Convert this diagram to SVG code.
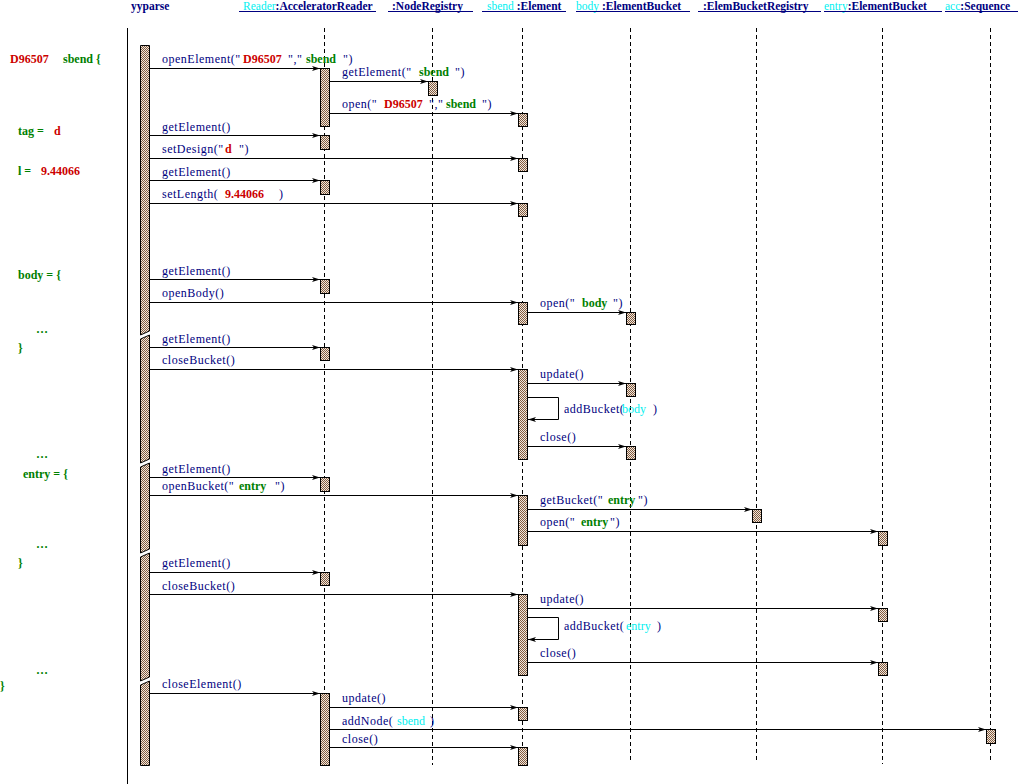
<svg xmlns="http://www.w3.org/2000/svg" width="1023" height="784" viewBox="0 0 1023 784">
<style>
text{font-family:"Liberation Serif","Times New Roman",serif;font-size:12px}
.h{font-weight:bold;fill:#000080;font-size:11.5px}
.hc{font-weight:normal;fill:#00f0f0}
.m{fill:#000080;letter-spacing:0.5px}
.g{fill:#008000;font-weight:bold;letter-spacing:0}
.r{fill:#cc0000;font-weight:bold;letter-spacing:0}
.c{fill:#00f0f0;letter-spacing:0}
.ul{stroke:#000080;stroke-width:1}
.life{stroke:#000;stroke-width:1;stroke-dasharray:4 3;fill:none}
.act{fill:url(#chk);stroke:#000;stroke-width:1}
.msg{stroke:#000;stroke-width:1;fill:none;marker-end:url(#ah)}
</style>
<defs>
<pattern id="chk" width="2" height="2" patternUnits="userSpaceOnUse">
<rect width="2" height="2" fill="#ece6e0"/>
<rect width="1" height="1" fill="#865c3c"/>
<rect x="1" y="1" width="1" height="1" fill="#865c3c"/>
</pattern>
<marker id="ah" markerWidth="10" markerHeight="8" refX="9" refY="4" orient="auto" markerUnits="userSpaceOnUse">
<path d="M1,1.5 L9,4 L1,6.5 L3,4 Z" fill="#000"/>
</marker>
</defs>
<rect width="1023" height="784" fill="#fff"/>

<!-- source column -->
<g id="source">
<text x="10" y="63" class="r">D96507</text><text x="63" y="63" class="g">sbend {</text>
<text x="18" y="135" class="g">tag =</text><text x="54" y="135" class="r">d</text>
<text x="18" y="175" class="g">l =</text><text x="41" y="175" class="r">9.44066</text>
<text x="18" y="279" class="g">body = {</text>
<text x="36" y="333" class="g">…</text>
<text x="18" y="352" class="g">}</text>
<text x="36" y="458" class="g">…</text>
<text x="23" y="478" class="g">entry = {</text>
<text x="36" y="548" class="g">…</text>
<text x="18" y="567" class="g">}</text>
<text x="36" y="674" class="g">…</text>
<text x="0" y="690" class="g">}</text>
</g>

<line x1="127.5" y1="28" x2="127.5" y2="784" stroke="#000" stroke-width="1"/>

<!-- lifelines -->
<g id="yyparse">
<text x="131" y="10" class="h">yyparse</text>
<polygon class="act" points="140.5,45.5 149.5,45.5 149.5,331 140.5,335"/>
<polygon class="act" points="140.5,339 149.5,335 149.5,459 140.5,463"/>
<polygon class="act" points="140.5,467 149.5,463 149.5,549 140.5,553"/>
<polygon class="act" points="140.5,557 149.5,553 149.5,677 140.5,681"/>
<polygon class="act" points="140.5,685 149.5,681 149.5,765.5 140.5,765.5"/>
</g>

<g id="reader">
<text x="243" y="10" class="h"><tspan class="hc">Reader</tspan>:AcceleratorReader</text>
<line class="ul" x1="239" y1="11.5" x2="376" y2="11.5"/>
<line class="life" x1="324.5" y1="28" x2="324.5" y2="765"/>
<rect class="act" x="320.5" y="68.5" width="9" height="58"/>
<rect class="act" x="320.5" y="135.5" width="9" height="14"/>
<rect class="act" x="320.5" y="180.5" width="9" height="14"/>
<rect class="act" x="320.5" y="279.5" width="9" height="14"/>
<rect class="act" x="320.5" y="347.5" width="9" height="13"/>
<rect class="act" x="320.5" y="477.5" width="9" height="14"/>
<rect class="act" x="320.5" y="572.5" width="9" height="13"/>
<rect class="act" x="320.5" y="693.5" width="9" height="72"/>
</g>

<g id="noderegistry">
<text x="392" y="10" class="h">:NodeRegistry</text>
<line class="ul" x1="388" y1="11.5" x2="473" y2="11.5"/>
<line class="life" x1="432.5" y1="28" x2="432.5" y2="765"/>
<rect class="act" x="428.5" y="81.5" width="9" height="14"/>
</g>

<g id="element">
<text x="487" y="10" class="h"><tspan class="hc">sbend</tspan> :Element</text>
<line class="ul" x1="482" y1="11.5" x2="566" y2="11.5"/>
<line class="life" x1="522.5" y1="28" x2="522.5" y2="765"/>
<rect class="act" x="518.5" y="113.5" width="9" height="13"/>
<rect class="act" x="518.5" y="158.5" width="9" height="13"/>
<rect class="act" x="518.5" y="203.5" width="9" height="13"/>
<rect class="act" x="518.5" y="302.5" width="9" height="22"/>
<rect class="act" x="518.5" y="369.5" width="9" height="90"/>
<rect class="act" x="518.5" y="495.5" width="9" height="50"/>
<rect class="act" x="518.5" y="594.5" width="9" height="81"/>
<rect class="act" x="518.5" y="707.5" width="9" height="13"/>
<rect class="act" x="518.5" y="747.5" width="9" height="18"/>
</g>

<g id="body">
<text x="576" y="10" class="h"><tspan class="hc">body</tspan> :ElementBucket</text>
<line class="ul" x1="576" y1="11.5" x2="690" y2="11.5"/>
<line class="life" x1="630.5" y1="28" x2="630.5" y2="762"/>
<rect class="act" x="626.5" y="312.5" width="9" height="12"/>
<rect class="act" x="626.5" y="383.5" width="9" height="13"/>
<rect class="act" x="626.5" y="446.5" width="9" height="13"/>
</g>

<g id="elembucketregistry">
<text x="703" y="10" class="h">:ElemBucketRegistry</text>
<line class="ul" x1="698" y1="11.5" x2="821" y2="11.5"/>
<line class="life" x1="756.5" y1="28" x2="756.5" y2="762"/>
<rect class="act" x="752.5" y="509.5" width="9" height="13"/>
</g>

<g id="entry">
<text x="824" y="10" class="h"><tspan class="hc">entry</tspan>:ElementBucket</text>
<line class="ul" x1="824" y1="11.5" x2="942" y2="11.5"/>
<line class="life" x1="882.5" y1="28" x2="882.5" y2="764"/>
<rect class="act" x="878.5" y="531.5" width="9" height="14"/>
<rect class="act" x="878.5" y="608.5" width="9" height="13"/>
<rect class="act" x="878.5" y="662.5" width="9" height="13"/>
</g>

<g id="acc">
<text x="945" y="10" class="h"><tspan class="hc">acc</tspan>:Sequence</text>
<line class="ul" x1="945" y1="11.5" x2="1018" y2="11.5"/>
<line class="life" x1="990.5" y1="28" x2="990.5" y2="763"/>
<rect class="act" x="986.5" y="729.5" width="9" height="14"/>
</g>

<!-- connectors -->
<g id="messages">
<path class="msg" d="M149.5,68.5 H320"/>
<path class="msg" d="M329.5,81.5 H428"/>
<path class="msg" d="M329.5,113.5 H518"/>
<path class="msg" d="M149.5,135.5 H320"/>
<path class="msg" d="M149.5,158.5 H518"/>
<path class="msg" d="M149.5,180.5 H320"/>
<path class="msg" d="M149.5,203.5 H518"/>
<path class="msg" d="M149.5,279.5 H320"/>
<path class="msg" d="M149.5,302.5 H518"/>
<path class="msg" d="M527.5,312.5 H626"/>
<path class="msg" d="M149.5,347.5 H320"/>
<path class="msg" d="M149.5,369.5 H518"/>
<path class="msg" d="M527.5,383.5 H626"/>
<path class="msg" d="M527.5,397.5 H558.5 V419.5 H528"/>
<path class="msg" d="M527.5,446.5 H626"/>
<path class="msg" d="M149.5,477.5 H320"/>
<path class="msg" d="M149.5,495.5 H518"/>
<path class="msg" d="M527.5,509.5 H752"/>
<path class="msg" d="M527.5,531.5 H878"/>
<path class="msg" d="M149.5,572.5 H320"/>
<path class="msg" d="M149.5,594.5 H518"/>
<path class="msg" d="M527.5,608.5 H878"/>
<path class="msg" d="M527.5,617.5 H558.5 V639.5 H528"/>
<path class="msg" d="M527.5,662.5 H878"/>
<path class="msg" d="M149.5,693.5 H320"/>
<path class="msg" d="M329.5,707.5 H518"/>
<path class="msg" d="M329.5,729.5 H986"/>
<path class="msg" d="M329.5,747.5 H518"/>

<text class="m" y="63"><tspan x="162">openElement("</tspan><tspan x="243" class="r">D96507</tspan><tspan x="288">","</tspan><tspan x="306" class="g">sbend</tspan><tspan x="343">")</tspan></text>
<text class="m" y="76"><tspan x="342">getElement("</tspan><tspan x="419" class="g">sbend</tspan><tspan x="455">")</tspan></text>
<text class="m" y="108"><tspan x="342">open("</tspan><tspan x="384" class="r">D96507</tspan><tspan x="429">","</tspan><tspan x="446" class="g">sbend</tspan><tspan x="482">")</tspan></text>
<text class="m" x="162" y="131">getElement()</text>
<text class="m" y="153"><tspan x="162">setDesign("</tspan><tspan x="225" class="r">d</tspan><tspan x="239">")</tspan></text>
<text class="m" x="162" y="176">getElement()</text>
<text class="m" y="198"><tspan x="162">setLength(</tspan><tspan x="225" class="r">9.44066</tspan><tspan x="279">)</tspan></text>
<text class="m" x="162" y="275">getElement()</text>
<text class="m" x="162" y="297">openBody()</text>
<text class="m" y="307"><tspan x="540">open("</tspan><tspan x="582" class="g">body</tspan><tspan x="613">")</tspan></text>
<text class="m" x="162" y="343">getElement()</text>
<text class="m" x="162" y="364">closeBucket()</text>
<text class="m" x="540" y="378">update()</text>
<text class="m" y="413"><tspan x="564">addBucket(</tspan><tspan x="622" class="c">body</tspan><tspan x="653">)</tspan></text>
<text class="m" x="540" y="441">close()</text>
<text class="m" x="162" y="473">getElement()</text>
<text class="m" y="490"><tspan x="162">openBucket("</tspan><tspan x="239" class="g">entry</tspan><tspan x="275">")</tspan></text>
<text class="m" y="504"><tspan x="540">getBucket("</tspan><tspan x="608" class="g">entry</tspan><tspan x="638">")</tspan></text>
<text class="m" y="526"><tspan x="540">open("</tspan><tspan x="581" class="g">entry</tspan><tspan x="610">")</tspan></text>
<text class="m" x="162" y="567">getElement()</text>
<text class="m" x="162" y="590">closeBucket()</text>
<text class="m" x="540" y="603">update()</text>
<text class="m" y="630"><tspan x="564">addBucket(</tspan><tspan x="626" class="c">entry</tspan><tspan x="657">)</tspan></text>
<text class="m" x="540" y="657">close()</text>
<text class="m" x="162" y="688">closeElement()</text>
<text class="m" x="342" y="702">update()</text>
<text class="m" y="725"><tspan x="342">addNode(</tspan><tspan x="397" class="c">sbend</tspan><tspan x="430">)</tspan></text>
<text class="m" x="342" y="743">close()</text>
</g>
</svg>
